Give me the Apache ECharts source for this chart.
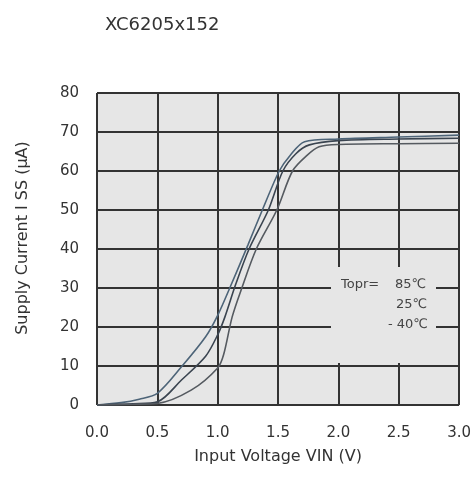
<!DOCTYPE html>
<html>
<head>
<meta charset="utf-8">
<script src="https://cdn.jsdelivr.net/npm/echarts@6/dist/echarts.min.js"></script>
<style>html,body{margin:0;padding:0;background:#fff;}#c{width:474px;height:477px;}</style>
</head>
<body>
<div id="c"></div>
<script>
const titleText = 'XC6205x152';
const xName = 'Input Voltage VIN (V)';
const yName = 'Supply Current I SS (μA)';
const xTicks = [0, 0.5, 1.0, 1.5, 2.0, 2.5, 3.0];
const yTicks = [0, 10, 20, 30, 40, 50, 60, 70, 80];
const legendLabels = ['Topr=', '85℃', '25℃', '- 40℃'];

const curve85 = [[0,0],[0.2,0.6],[0.35,1.5],[0.5,3],[0.7,9.8],[0.9,17.5],[1.0,23],[1.1,30],[1.25,41],[1.37,50],[1.51,60],[1.6,64],[1.72,67.5],[2.0,68.2],[2.5,68.7],[3.0,69.2]];
const curve25 = [[0,0],[0.3,0.3],[0.5,0.8],[0.7,6.4],[0.9,12.5],[1.0,18],[1.06,22.6],[1.15,31],[1.26,40],[1.42,50],[1.54,60],[1.65,64.5],[1.76,66.7],[2.0,67.8],[2.5,68.2],[3.0,68.4]];
const curveM40 = [[0,0],[0.3,0.2],[0.5,0.4],[0.78,3.8],[1.0,9.5],[1.05,13],[1.12,22.6],[1.2,30],[1.32,40],[1.49,50],[1.62,60],[1.74,64],[1.84,66.2],[2.0,66.8],[2.5,67],[3.0,67.1]];

const FONT = 'DejaVu Sans';
const chart = echarts.init(document.getElementById('c'), null, {renderer:'canvas'});
function line(data, color){
  return {type:'line', data:data, showSymbol:false, smooth:0.3, lineStyle:{color:color, width:1.6}, z:5};
}
chart.setOption({
  animation:false,
  backgroundColor:'#ffffff',
  title:{text:titleText, left:100, top:11, textStyle:{fontFamily:FONT, fontSize:18, fontWeight:'normal', color:'#333'}},
  grid:{left:97, top:93, right:14, bottom:72, show:true, backgroundColor:'#e6e6e6', borderColor:'#888', borderWidth:1},
  xAxis:{type:'value', min:xTicks[0], max:xTicks[xTicks.length-1], interval:0.5,
    name:xName, nameLocation:'middle', nameGap:44,
    nameTextStyle:{fontFamily:FONT, fontSize:16, color:'#333'},
    axisLine:{show:false}, axisTick:{show:false},
    axisLabel:{fontFamily:FONT, fontSize:15, color:'#333', margin:21, formatter:v=>v.toFixed(1)},
    splitLine:{show:true, lineStyle:{color:'#333', width:2}}},
  yAxis:{type:'value', min:yTicks[0], max:yTicks[yTicks.length-1], interval:10,
    name:yName, nameLocation:'middle', nameGap:66,
    nameTextStyle:{fontFamily:FONT, fontSize:16, color:'#333', padding:[0,0,0,22]},
    axisLine:{show:false}, axisTick:{show:false},
    axisLabel:{fontFamily:FONT, fontSize:15, color:'#333', margin:18},
    splitLine:{show:true, lineStyle:{color:'#333', width:2}}},
  graphic:[
    {type:'rect', z:100, shape:{x:331, y:267, width:105, height:96}, style:{fill:'#e6e6e6'}},
    {type:'text', z:101, left:341, top:278, style:{text:legendLabels[0], font:'13px "DejaVu Sans"', fill:'#444'}},
    {type:'text', z:101, left:395, top:278, style:{text:legendLabels[1], font:'13px "DejaVu Sans"', fill:'#444'}},
    {type:'text', z:101, left:396, top:298, style:{text:legendLabels[2], font:'13px "DejaVu Sans"', fill:'#444'}},
    {type:'text', z:101, left:388, top:318, style:{text:legendLabels[3], font:'13px "DejaVu Sans"', fill:'#444'}}
  ],
  series:[line(curve85,'#4d6478'), line(curve25,'#3a4450'), line(curveM40,'#555a60')]
});
</script>
</body>
</html>
